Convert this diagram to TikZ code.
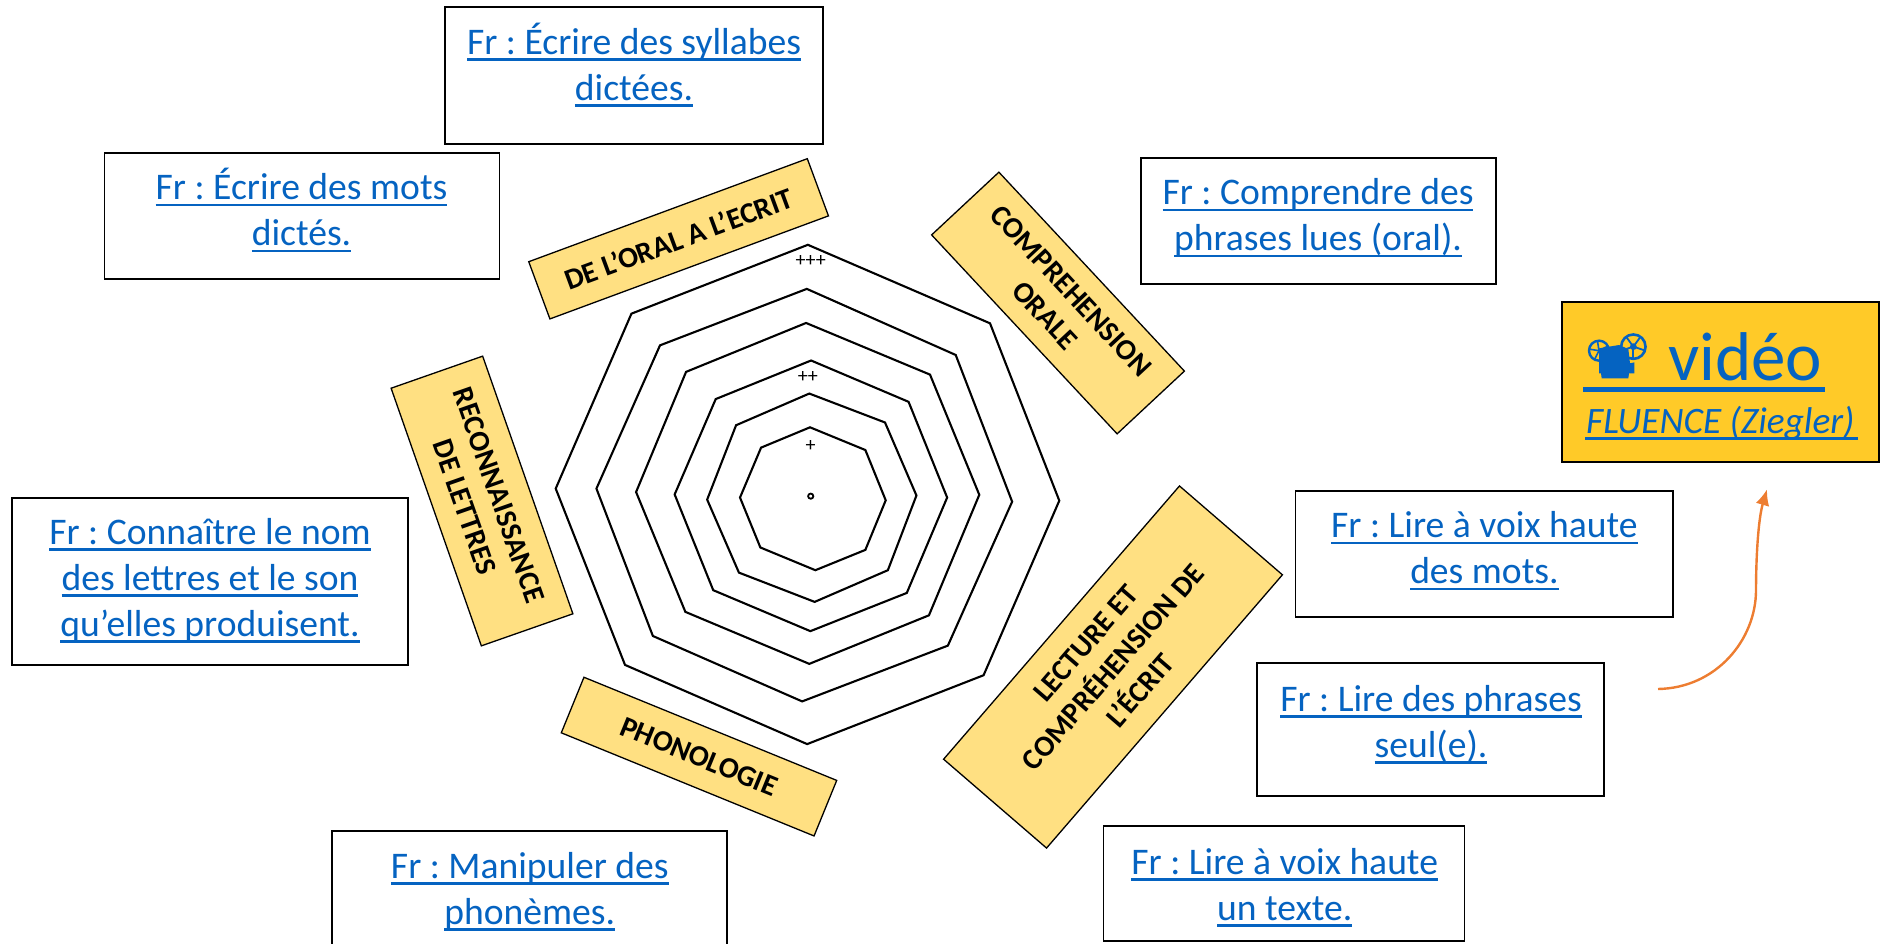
\documentclass[tikz,border=0pt]{standalone}
\usepackage{fontspec}
\usetikzlibrary{arrows.meta}
\setmainfont{Carlito}
\frenchspacing
\definecolor{linkblue}{HTML}{0563C1}
\definecolor{labelfill}{HTML}{FFE082}
\definecolor{videofill}{HTML}{FFCA28}
\definecolor{arrowor}{HTML}{ED7D31}
\newcommand\ulin[1]{\setbox0=\hbox{#1}\ht0=12pt \dp0=12pt \leavevmode\rlap{\copy0}\rule[-6.6pt]{\wd0}{2.7pt}}
\tikzset{
 linkbox/.style={draw=black,line width=1.8pt,fill=white,inner sep=0pt,anchor=center},
 linktext/.style={text=linkblue,align=center,font=\fontsize{37.6}{46}\selectfont,inner sep=0pt,anchor=center,yshift=-1.3pt},
 axisbox/.style={draw=black,line width=1.3pt,fill=labelfill,align=center,font=\fontsize{29.5}{36}\selectfont\bfseries,inner sep=0pt,anchor=center,text=black},
 ring/.style={draw=black,line width=2.1pt,line join=miter},
 scalemark/.style={font=\fontsize{20}{20}\selectfont,inner sep=0pt,text=black},
}
\begin{document}
\begin{tikzpicture}[x=1pt,y=-1pt]
\useasboundingbox (0,0) rectangle (1881,943);
\clip (0,0) rectangle (1881,943);
% rings, in units of a 2.8 x 2.904 enlargement
\begin{scope}[shift={(520,220)},x=0.35714pt,y=-0.34435pt]
\draw[ring] (806,72)--(1316,300)--(1510,815)--(1298,1322)--(804,1522)--(294,1292)--(100,780)--(312,272)--cycle;
\draw[ring] (803,200)--(1220,392)--(1378,818)--(1198,1236)--(790,1398)--(372,1208)--(214,780)--(392,364)--cycle;
\draw[ring] (801,299)--(1148,449)--(1286,798)--(1145,1148)--(810,1289)--(463,1138)--(325,790)--(465,441)--cycle;
\draw[ring] (815,408)--(1088,528)--(1196,806)--(1083,1083)--(813,1194)--(541,1075)--(433,797)--(548,520)--cycle;
\draw[ring] (810,504)--(1022,588)--(1110,800)--(1030,1017)--(825,1109)--(613,1024)--(524,812)--(605,596)--cycle;
\draw[ring] (812,602)--(967,668)--(1024,814)--(967,958)--(827,1017)--(673,951)--(616,806)--(675,661)--cycle;
\draw[black,line width=1.8pt] (814,802) circle (2.6pt);
\node[scalemark] (p3) at (814,120) {+++};
\node[scalemark] (p2) at (806,456) {++};
\node[scalemark] (p1) at (814,657) {+};
\end{scope}
% axis labels
\node[axisbox,rotate=20.3,minimum width=297pt,minimum height=61pt] (oral) at (678.6,238.8) {DE L’ORAL A L’ECRIT};
\node[axisbox,rotate=-47,minimum width=272pt,minimum height=92pt] (comp) at (1058,303) {COMPREHENSION\\ORALE};
\node[axisbox,rotate=-70.7,minimum width=273pt,minimum height=97pt] (reco) at (482,501) {RECONNAISSANCE\\DE LETTRES};
\node[axisbox,rotate=-22.2,minimum width=273pt,minimum height=60pt] (phon) at (699,756.6) {PHONOLOGIE};
\node[axisbox,rotate=49.2,minimum width=361pt,minimum height=136pt] (lect) at (1113,667) {LECTURE ET\\COMPRÉHENSION DE\\L’ÉCRIT};
% link boxes
\node[linkbox,minimum width=378pt,minimum height=137.6pt] (b1) at (634,75.5) {};
\node[linktext] (t1) at (634,75.8) {\ulin{Fr : Écrire des syllabes}\\\ulin{dictées.}};
\node[linkbox,minimum width=395pt,minimum height=126.3pt] (b2) at (301.9,216.2) {};
\node[linktext] (t2) at (301.5,221.4) {\ulin{Fr : Écrire des mots}\\\ulin{dictés.}};
\node[linkbox,minimum width=355pt,minimum height=126.6pt] (b3) at (1318.2,221) {};
\node[linktext] (t3) at (1318,226.4) {\ulin{Fr : Comprendre des}\\\ulin{phrases lues (oral).}};
\node[linkbox,minimum width=395.7pt,minimum height=167.6pt] (b4) at (210,581.5) {};
\node[linktext] (t4) at (210,589.2) {\ulin{Fr : Connaître le nom}\\\ulin{des lettres et le son}\\\ulin{qu’elles produisent.}};
\node[linkbox,minimum width=377.5pt,minimum height=126.3pt] (b5) at (1484.3,553.8) {};
\node[linktext] (t5) at (1484.4,559.5) {\ulin{Fr : Lire à voix haute}\\\ulin{des mots.}};
\node[linkbox,minimum width=347pt,minimum height=132.7pt] (b6) at (1430.5,729.7) {};
\node[linktext] (t6) at (1431,732.7) {\ulin{Fr : Lire des phrases}\\\ulin{seul(e).}};
\node[linkbox,minimum width=361pt,minimum height=114.4pt] (b7) at (1284,883.5) {};
\node[linktext] (t7) at (1284.7,895.7) {\ulin{Fr : Lire à voix haute}\\\ulin{un texte.}};
\node[linkbox,minimum width=395pt,minimum height=200pt] (b8) at (529.8,931) {};
\node[linktext] (t8) at (529.8,900) {\ulin{Fr : Manipuler des}\\\ulin{phonèmes.}};
% video
\node[draw=black,line width=1.8pt,fill=videofill,minimum width=317pt,minimum height=160pt,inner sep=0pt] (vid) at (1720.8,382) {};
\begin{scope}[shift={(1575,325)},x=0.3333pt,y=-0.3333pt,linkblue]
\draw[line width=2.4pt] (72,77) circle (10pt);
\draw[line width=2.6pt] (175,65) circle (12.2pt);
\fill[linkblue] (175,65) circle (3.4pt);
\fill[videofill] (175,65) circle (1.3pt);
\foreach \a in {90,162,234,306,18} {\draw[line width=1.8pt] (175,65) -- ++(\a:34);}
\foreach \a in {45,117,189,261,333} {\draw[line width=1.6pt] (72,77) -- ++(\a:28);}
\fill[linkblue] (72,70)--(132,60)--(160,72)--(165,115)--(178,112)--(178,145)--(162,145)--(160,160)--(80,160)--(78,145)--(72,145)--cycle;
\end{scope}
\node[text=linkblue,inner sep=0pt,font=\fontsize{69}{69}\selectfont,anchor=base west] (vidt) at (1668,380.3) {vidéo};
\node[text=linkblue,inner sep=0pt,font=\fontsize{37.3}{37}\selectfont\itshape,anchor=base west] (vids) at (1586,433.3) {FLUENCE (Ziegler)};
\fill[linkblue] (1583.3,387.3) rectangle (1824.7,391.7);
\fill[linkblue] (1585.3,437) rectangle (1858,440);
\coordinate (ars) at (1658,689);
\coordinate (art) at (1767,489.3);
\draw[arrowor,line width=2.4pt,-{Latex[length=16pt,width=14pt]}] (ars) .. controls (1716,688) and (1756,640) .. (1756,590) .. controls (1756,560) and (1758,520) .. (art);
\end{tikzpicture}
\end{document}
